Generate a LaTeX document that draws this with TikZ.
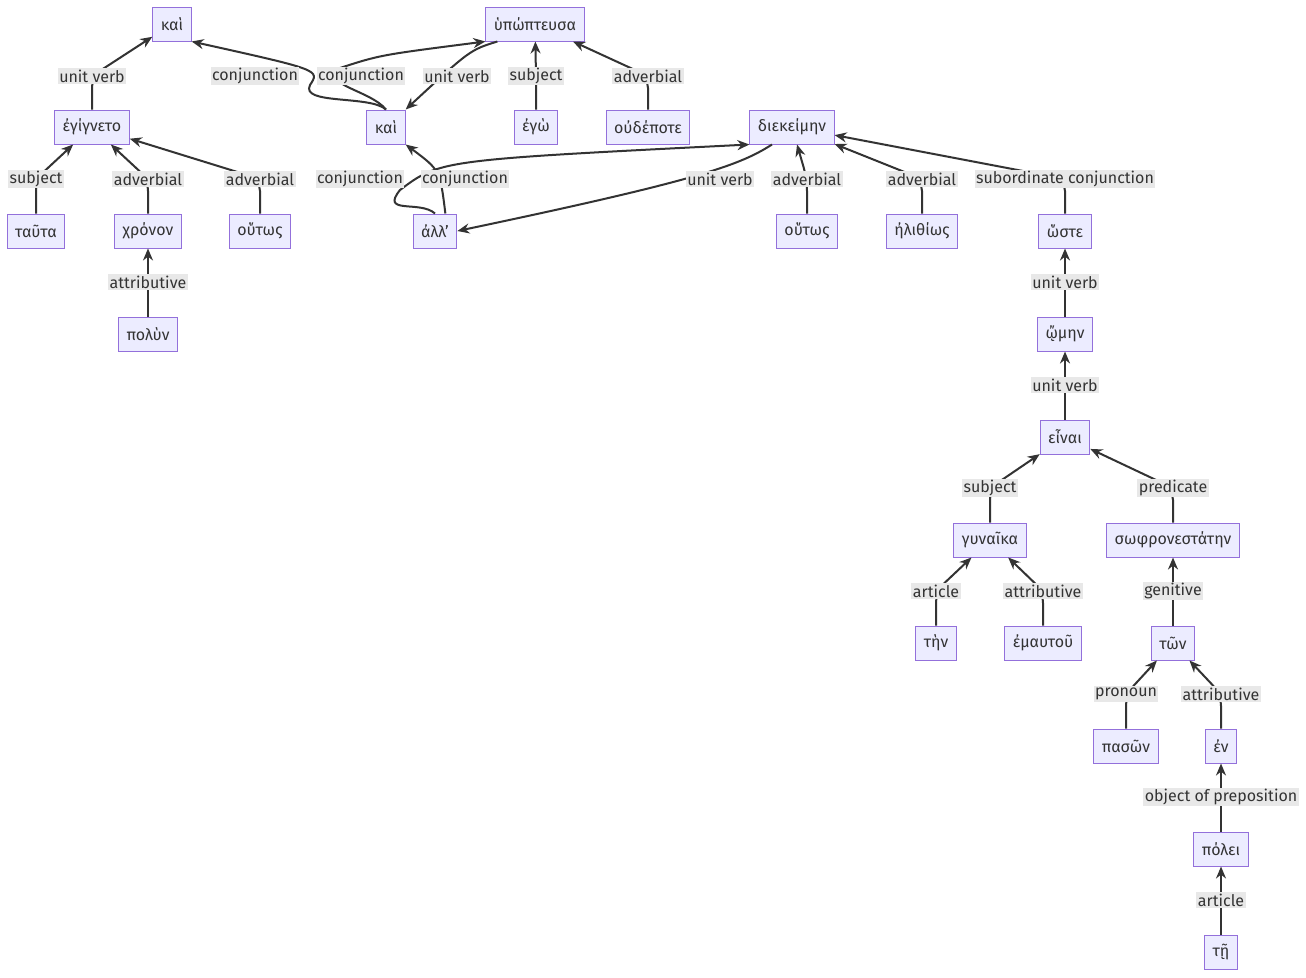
\documentclass[tikz,border=0pt]{standalone}
\usepackage{fontspec}
\setmainfont{Fira Sans}
\usetikzlibrary{arrows.meta}
\definecolor{boxfill}{HTML}{ECECFF}
\definecolor{boxline}{HTML}{9370DB}
\definecolor{edgecol}{HTML}{333333}
\definecolor{lblfill}{HTML}{E8E8E8}
\tikzset{
  word/.style={draw=boxline,fill=boxfill,line width=1pt,minimum height=34pt,inner xsep=8pt,font=\fontsize{16}{19}\selectfont,text=edgecol},
  rel/.style={fill=lblfill,inner sep=1.5pt,font=\fontsize{16}{19}\selectfont,text=edgecol},
  edge/.style={draw=edgecol,line width=2pt,-{Stealth[length=12pt,width=10pt]},rounded corners=12pt}
}
% child, parent, label point, label text
\newcommand{\dep}[4]{\draw[edge] (#1) -- (#1 |- #3) -- (#2);
  \node[rel] at (#3) {#4};}
\begin{document}
\begin{tikzpicture}[x=1pt,y=-1pt]
\useasboundingbox[fill=white] (0,0) rectangle (1306,977);

% words
\node[word] (kai1) at (172,24) {καὶ};
\node[word] (hypopteusa) at (535,24) {ὑπώπτευσα};
\node[word] (egigneto) at (92,127) {ἐγίγνετο};
\node[word] (kai2) at (386,127) {καὶ};
\node[word] (ego) at (536,127) {ἐγὼ};
\node[word] (oudepote) at (648,127) {οὐδέποτε};
\node[word] (diekeimen) at (792,127) {διεκείμην};
\node[word] (tauta) at (36,231) {ταῦτα};
\node[word] (chronon) at (148,231) {χρόνον};
\node[word] (houtosA) at (260,231) {οὕτως};
\node[word] (all) at (435,231) {ἀλλ'};
\node[word] (houtosB) at (807,231) {οὕτως};
\node[word] (helithios) at (922,231) {ἠλιθίως};
\node[word] (hoste) at (1065,231) {ὥστε};
\node[word] (polun) at (148,334) {πολὺν};
\node[word] (oimen) at (1065,334) {ᾤμην};
\node[word] (einai) at (1065,437) {εἶναι};
\node[word] (gunaika) at (990,540) {γυναῖκα};
\node[word] (sophr) at (1173,540) {σωφρονεστάτην};
\node[word] (ten) at (936,643) {τὴν};
\node[word] (emautou) at (1043,643) {ἐμαυτοῦ};
\node[word] (ton) at (1173,643) {τῶν};
\node[word] (pason) at (1126,746) {πασῶν};
\node[word] (en) at (1221,746) {ἐν};
\node[word] (polei) at (1221,849) {πόλει};
\node[word] (tei) at (1221,952) {τῇ};

% relations
\dep{egigneto}{kai1}{92,76}{unit verb}
\dep{ego}{hypopteusa}{536,76}{subject}
\dep{oudepote}{hypopteusa}{648,76}{adverbial}
\dep{tauta}{egigneto}{36,179}{subject}
\dep{chronon}{egigneto}{148,179}{adverbial}
\dep{houtosA}{egigneto}{260,179}{adverbial}
\dep{polun}{chronon}{148,282}{attributive}
\dep{houtosB}{diekeimen}{807,179}{adverbial}
\dep{helithios}{diekeimen}{922,179}{adverbial}
\dep{hoste}{diekeimen}{1065,179}{subordinate conjunction}
\dep{oimen}{hoste}{1065,282}{unit verb}
\dep{einai}{oimen}{1065,385}{unit verb}
\dep{gunaika}{einai}{990,488}{subject}
\dep{sophr}{einai}{1173,488}{predicate}
\dep{ten}{gunaika}{936,591}{article}
\dep{emautou}{gunaika}{1043,591}{attributive}
\dep{ton}{sophr}{1173,591}{genitive}
\dep{pason}{ton}{1126,694}{pronoun}
\dep{en}{ton}{1221,694}{attributive}
\dep{polei}{en}{1221,797}{object of preposition}
\dep{tei}{polei}{1221,900}{article}

% crossing relations
\draw[edge,rounded corners=0pt] (kai2.north) .. controls (370,95) and (300,105) .. (310,85)
  .. controls (320,70) .. (kai1.south east);
\draw[edge,rounded corners=0pt] (kai2.north) .. controls (370,90) and (320,85) .. (340,68)
  .. controls (380,55) .. (hypopteusa.south west);
\draw[edge,rounded corners=0pt] (hypopteusa.south west) ++(12,0) .. controls (470,50) .. (kai2.north east);
\draw[edge,rounded corners=0pt] (all.north) .. controls (420,200) and (380,215) .. (400,190)
  .. controls (440,160) .. (diekeimen.south west);
\draw[edge,rounded corners=0pt] (all.north east) ++(-12,0) .. controls (440,170) .. (kai2.south east);
\draw[edge,rounded corners=0pt] (diekeimen.south) ++(-20,0) .. controls (740,165) and (700,180) .. (all.east);
\node[rel] at (255,76) {conjunction};
\node[rel] at (361,76) {conjunction};
\node[rel] at (457,76) {unit verb};
\node[rel] at (360,179) {conjunction};
\node[rel] at (465,179) {conjunction};
\node[rel] at (720,179) {unit verb};
\end{tikzpicture}
\end{document}
